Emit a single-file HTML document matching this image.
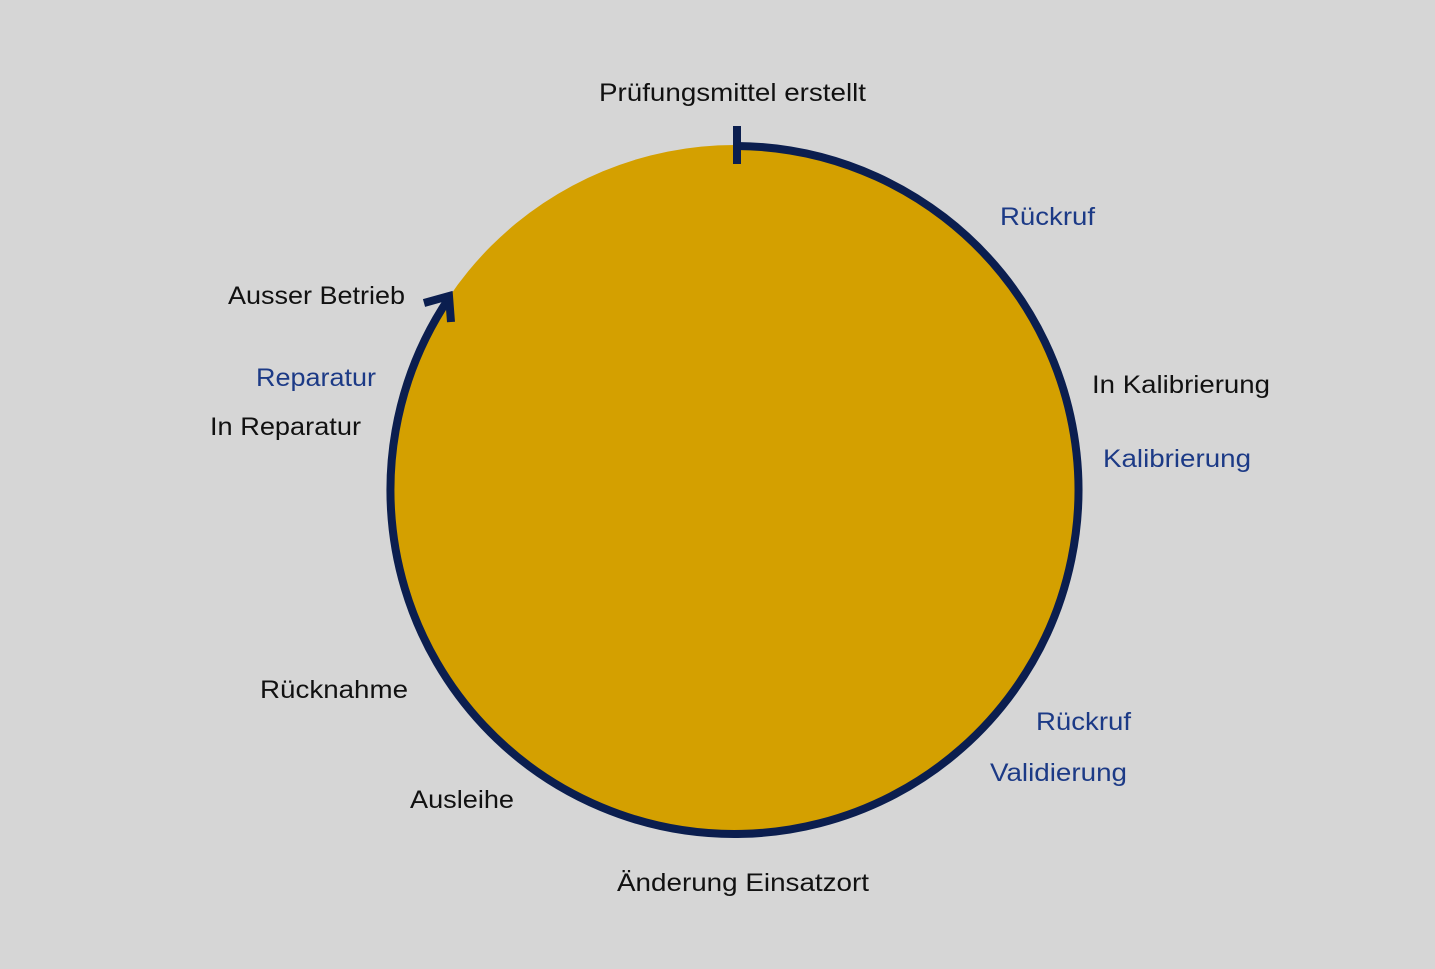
<!DOCTYPE html>
<html><head><meta charset="utf-8"><style>
html,body{margin:0;padding:0;background:#d6d6d6;}
svg{display:block}
text{font-family:"Liberation Sans",sans-serif;font-size:25px;}
.b{fill:#111}
.u{fill:#1c3a86}
</style></head><body>
<svg width="1435" height="969" viewBox="0 0 1435 969">
<rect width="1435" height="969" fill="#d6d6d6"/>
<circle cx="735" cy="490" r="345" fill="#d4a000"/>
<path d="M737,146 A344,344 0 1 1 449,298" fill="none" stroke="#0b1e4f" stroke-width="8"/>
<line x1="737" y1="126" x2="737" y2="164" stroke="#0b1e4f" stroke-width="8"/>
<polyline points="424,303 449,296 451,322" fill="none" stroke="#0b1e4f" stroke-width="8"/>
<text x="599" y="101" textLength="267" lengthAdjust="spacingAndGlyphs" class="b">Prüfungsmittel erstellt</text>
<text x="1000" y="225" textLength="95" lengthAdjust="spacingAndGlyphs" class="u">Rückruf</text>
<text x="1092" y="393" textLength="178" lengthAdjust="spacingAndGlyphs" class="b">In Kalibrierung</text>
<text x="1103" y="467" textLength="148" lengthAdjust="spacingAndGlyphs" class="u">Kalibrierung</text>
<text x="1036" y="730" textLength="95" lengthAdjust="spacingAndGlyphs" class="u">Rückruf</text>
<text x="990" y="781" textLength="137" lengthAdjust="spacingAndGlyphs" class="u">Validierung</text>
<text x="617" y="891" textLength="252" lengthAdjust="spacingAndGlyphs" class="b">Änderung Einsatzort</text>
<text x="410" y="808" textLength="104" lengthAdjust="spacingAndGlyphs" class="b">Ausleihe</text>
<text x="260" y="698" textLength="148" lengthAdjust="spacingAndGlyphs" class="b">Rücknahme</text>
<text x="210" y="435" textLength="151" lengthAdjust="spacingAndGlyphs" class="b">In Reparatur</text>
<text x="256" y="386" textLength="120" lengthAdjust="spacingAndGlyphs" class="u">Reparatur</text>
<text x="228" y="304" textLength="177" lengthAdjust="spacingAndGlyphs" class="b">Ausser Betrieb</text>
</svg>
</body></html>
